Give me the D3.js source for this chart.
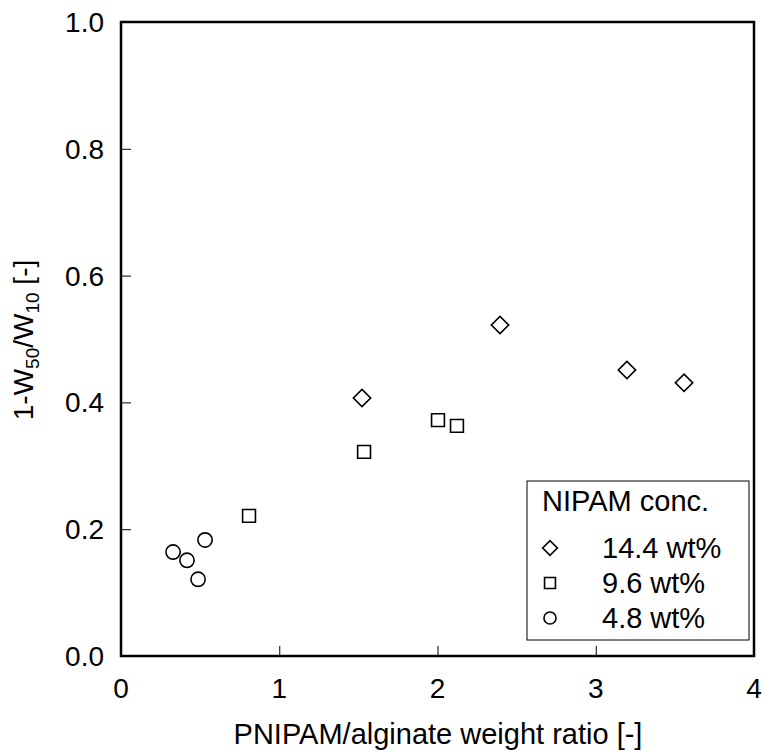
<!DOCTYPE html>
<html>
<head>
<meta charset="utf-8">
<script src="https://cdn.jsdelivr.net/npm/d3@7"></script>
<style>
body{margin:0;background:#fff;}
svg text{font-family:"Liberation Sans",Arial,sans-serif;fill:#000;}
</style>
</head>
<body>
<svg id="chart" width="763" height="755"></svg>
<script>
const seriesNames = ["14.4 wt%", "9.6 wt%", "4.8 wt%"];
const seriesSymbols = ["diamond", "square", "circle"];
const x144 = [1.523, 2.395, 3.197, 3.558];
const y144 = [0.407, 0.522, 0.451, 0.431];
const x96 = [0.809, 1.536, 2.003, 2.123];
const y96 = [0.221, 0.322, 0.372, 0.363];
const x48 = [0.329, 0.417, 0.487, 0.531];
const y48 = [0.164, 0.151, 0.121, 0.183];
const xTicks = [0, 1, 2, 3, 4];
const yTicks = [0.0, 0.2, 0.4, 0.6, 0.8, 1.0];

const series = [
  {name: seriesNames[0], sym: seriesSymbols[0], xs: x144, ys: y144},
  {name: seriesNames[1], sym: seriesSymbols[1], xs: x96, ys: y96},
  {name: seriesNames[2], sym: seriesSymbols[2], xs: x48, ys: y48}
];

const svg = d3.select("#chart");
const L = 121, R = 754, T = 22, B = 656;
const x = d3.scaleLinear().domain([0, 4]).range([L, R]);
const y = d3.scaleLinear().domain([0, 1]).range([B, T]);

// inner ticks
const xAx = svg.append("g").attr("transform", `translate(0,${B})`)
  .call(d3.axisBottom(x).tickValues(xTicks.slice(1, -1)).tickSizeInner(-10).tickSizeOuter(0).tickFormat(""));
xAx.select(".domain").remove();
xAx.selectAll("line").attr("stroke", "#000").attr("stroke-width", 1);
const yAx = svg.append("g").attr("transform", `translate(${L},0)`)
  .call(d3.axisLeft(y).tickValues(yTicks.slice(1, -1)).tickSizeInner(-10).tickSizeOuter(0).tickFormat(""));
yAx.select(".domain").remove();
yAx.selectAll("line").attr("stroke", "#000").attr("stroke-width", 1);

// tick labels
svg.append("g").selectAll("text").data(xTicks).join("text")
  .attr("x", d => x(d)).attr("y", 698)
  .attr("text-anchor", "middle").attr("font-size", 28)
  .text(d => d3.format("d")(d));
svg.append("g").selectAll("text").data(yTicks).join("text")
  .attr("x", 104).attr("y", d => y(d) + 10)
  .attr("text-anchor", "end").attr("font-size", 28)
  .text(d => d3.format(".1f")(d));

// frame
svg.append("rect").attr("x", L).attr("y", T).attr("width", R - L).attr("height", B - T)
  .attr("fill", "none").attr("stroke", "#000").attr("stroke-width", 2.5);

// axis titles
svg.append("text").attr("x", 438).attr("y", 744).attr("text-anchor", "middle")
  .attr("font-size", 29).text("PNIPAM/alginate weight ratio [-]");
const yt = svg.append("text").attr("transform", "translate(33,340) rotate(-90)")
  .attr("text-anchor", "middle").attr("font-size", 28);
yt.append("tspan").text("1-W");
yt.append("tspan").attr("font-size", 19).attr("dy", 6).text("50");
yt.append("tspan").attr("dy", -6).text("/W");
yt.append("tspan").attr("font-size", 19).attr("dy", 6).text("10");
yt.append("tspan").attr("dy", -6).text(" [-]");

// symbols
function symPath(sym, scale) {
  if (sym === "diamond") return d3.symbol().type(d3.symbolSquare).size(150 * scale)();
  if (sym === "square") return d3.symbol().type(d3.symbolSquare).size(165 * scale)();
  return d3.symbol().type(d3.symbolCircle).size(160 * scale)();
}
function drawSym(g, sym, cx, cy, scale) {
  g.append("path").attr("d", symPath(sym, scale))
    .attr("transform", `translate(${cx},${cy})` + (sym === "diamond" ? " rotate(45)" : ""))
    .attr("fill", "none").attr("stroke", "#000").attr("stroke-width", 1.6);
}
const pts = svg.append("g");
series.forEach(s => {
  s.xs.forEach((xv, i) => drawSym(pts, s.sym, x(xv), y(s.ys[i]), 1));
});

// legend
const lg = svg.append("g");
lg.append("rect").attr("x", 527).attr("y", 481).attr("width", 222).attr("height", 159)
  .attr("fill", "#fff").attr("stroke", "#000").attr("stroke-width", 1);
lg.append("text").attr("x", 542).attr("y", 511).attr("font-size", 29).text("NIPAM conc.");
series.forEach((s, i) => {
  const cy = 548 + i * 35;
  drawSym(lg, s.sym, 550, cy, 0.72);
  lg.append("text").attr("x", 602).attr("y", cy + 10).attr("font-size", 29).text(s.name);
});
</script>
</body>
</html>
